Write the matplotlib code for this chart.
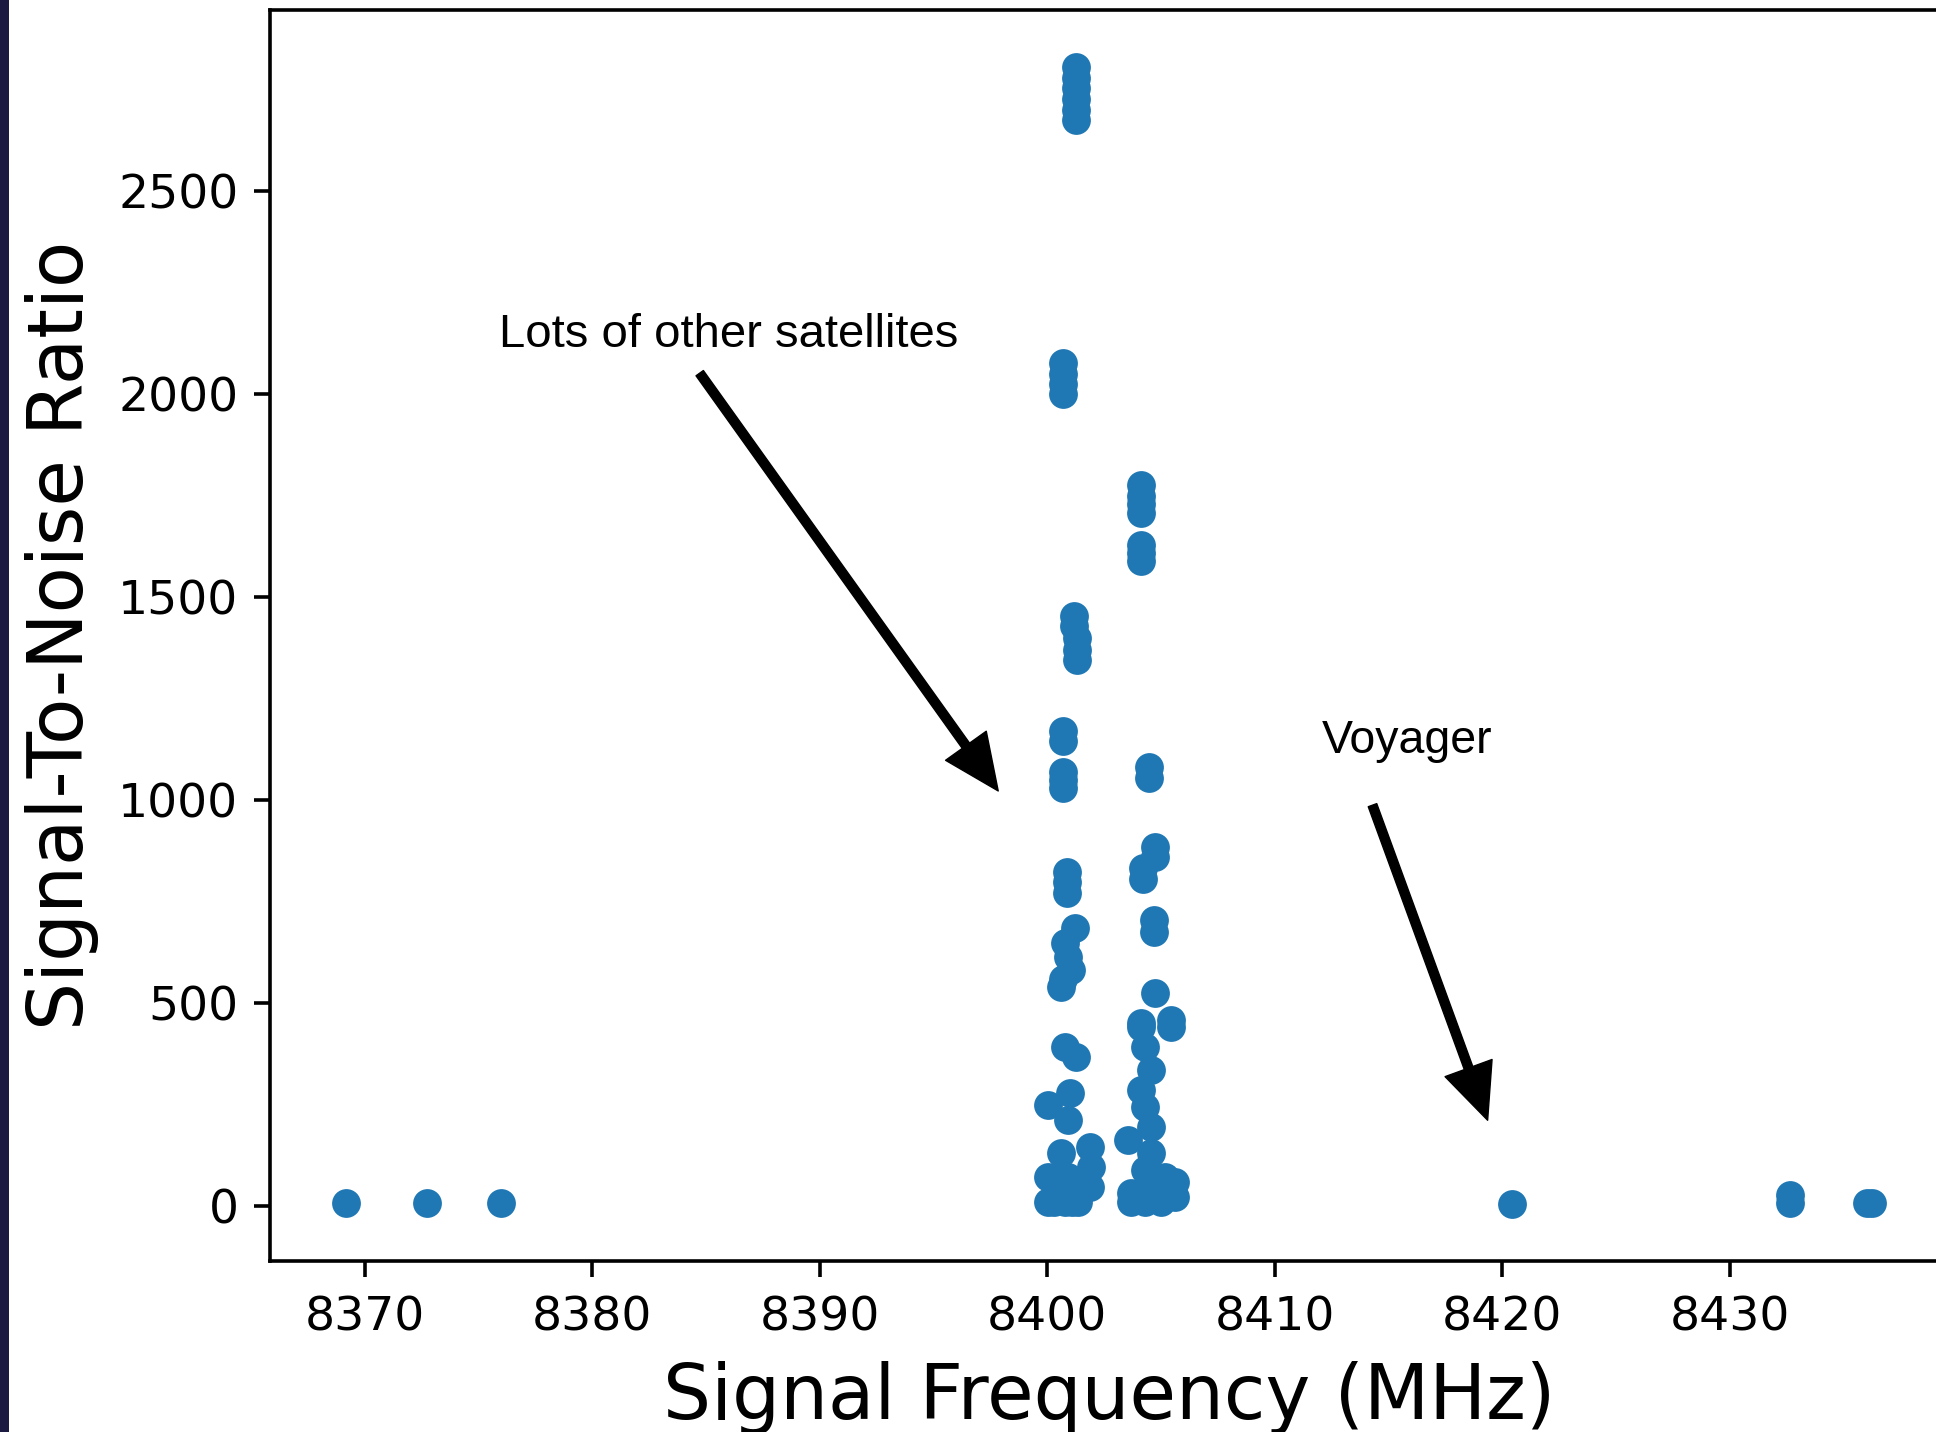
import matplotlib
matplotlib.use("Agg")
import matplotlib.pyplot as plt
from matplotlib.patches import Rectangle

# signal frequency (MHz) and signal-to-noise ratio of the detected peaks
freq = [8369.20, 8372.73, 8375.98,
        8420.45,
        8432.66, 8432.66, 8436.05, 8436.25,
        # cluster near 8401
        8401.28, 8401.28, 8401.28, 8401.28, 8401.28, 8401.28,
        8400.71, 8400.71, 8400.71, 8400.71,
        8401.20, 8401.20, 8401.30, 8401.30, 8401.30,
        8400.71, 8400.71, 8400.71, 8400.71, 8400.71,
        8400.88, 8400.88, 8400.88,
        8401.22, 8400.78, 8400.93, 8401.06, 8400.62, 8400.70,
        8400.78, 8401.28,
        8400.05, 8401.00, 8400.93,
        8400.62, 8401.88, 8401.94, 8400.05, 8401.88, 8400.05, 8400.78,
        8401.37, 8400.49, 8400.90, 8400.30, 8401.10,
        # cluster near 8404.5
        8404.13, 8404.13, 8404.13, 8404.13,
        8404.13, 8404.13, 8404.13,
        8404.46, 8404.46,
        8404.73, 8404.73, 8404.22, 8404.22,
        8404.70, 8404.70,
        8404.73, 8405.45, 8405.45, 8404.13, 8404.13,
        8404.29, 8404.58, 8404.13, 8404.29, 8404.58, 8403.55, 8404.58,
        8404.29, 8405.17, 8403.69, 8404.29, 8405.01, 8405.60, 8405.60,
        8404.60, 8403.70, 8404.70]
snr = [7, 7, 7,
       6,
       8, 28, 7, 7,
       2806, 2780, 2755, 2728, 2700, 2676,
       2077, 2050, 2025, 2001,
       1455, 1430, 1400, 1370, 1345,
       1171, 1146, 1069, 1050, 1030,
       824, 798, 771,
       686, 649, 614, 582, 540, 560,
       393, 368,
       249, 279, 213,
       131, 146, 97, 72, 48, 11, 11,
       11, 48, 72, 11, 11,
       1776, 1750, 1730, 1707,
       1628, 1608, 1589,
       1082, 1055,
       886, 860, 833, 805,
       705, 676,
       525, 459, 442, 452, 442,
       393, 336, 286, 245, 196, 163, 131,
       89, 72, 33, 11, 11, 23, 60,
       60, 11, 20]

fig = plt.figure(figsize=(19.36, 14.32), dpi=100)
ax = fig.add_axes([0.1395, 0.1196, 0.8668, 0.8733])

ax.scatter(freq, snr, s=430, color="#1f77b4", linewidths=0)

ax.set_xticks([8370, 8380, 8390, 8400, 8410, 8420, 8430])
ax.set_yticks([0, 500, 1000, 1500, 2000, 2500])
ax.tick_params(labelsize=34, length=11.4, width=2.6)
ax.tick_params(axis="x", pad=13.5)
ax.tick_params(axis="y", pad=11.4)
for sp in ax.spines.values():
    sp.set_linewidth(2.6)
ax.set_xlabel("Signal Frequency (MHz)", fontsize=54.5, labelpad=15)
ax.set_ylabel("Signal-To-Noise Ratio", fontsize=54.5, labelpad=14)

# hand-drawn style annotations
arrow = dict(facecolor="black", edgecolor="black", width=6.5,
             headwidth=36, headlength=40, shrink=0)
ax.annotate("", xy=(8397.85, 1023), xytext=(8384.73, 2052), arrowprops=arrow)
ax.annotate("", xy=(8419.36, 212), xytext=(8414.3, 988), arrowprops=arrow)
ax.text(8386.0, 2146, "Lots of other satellites", fontsize=34,
        family="Liberation Sans", ha="center", va="center")
ax.text(8415.8, 1146, "Voyager", fontsize=33.5,
        family="Liberation Sans", ha="center", va="center")

# dark strip on the left edge of the screenshot
fig.patches.append(Rectangle((0, 0), 9 / 1936, 1, transform=fig.transFigure,
                             facecolor="#1c1a40", edgecolor="none"))

fig.savefig("out.png", dpi=100)
